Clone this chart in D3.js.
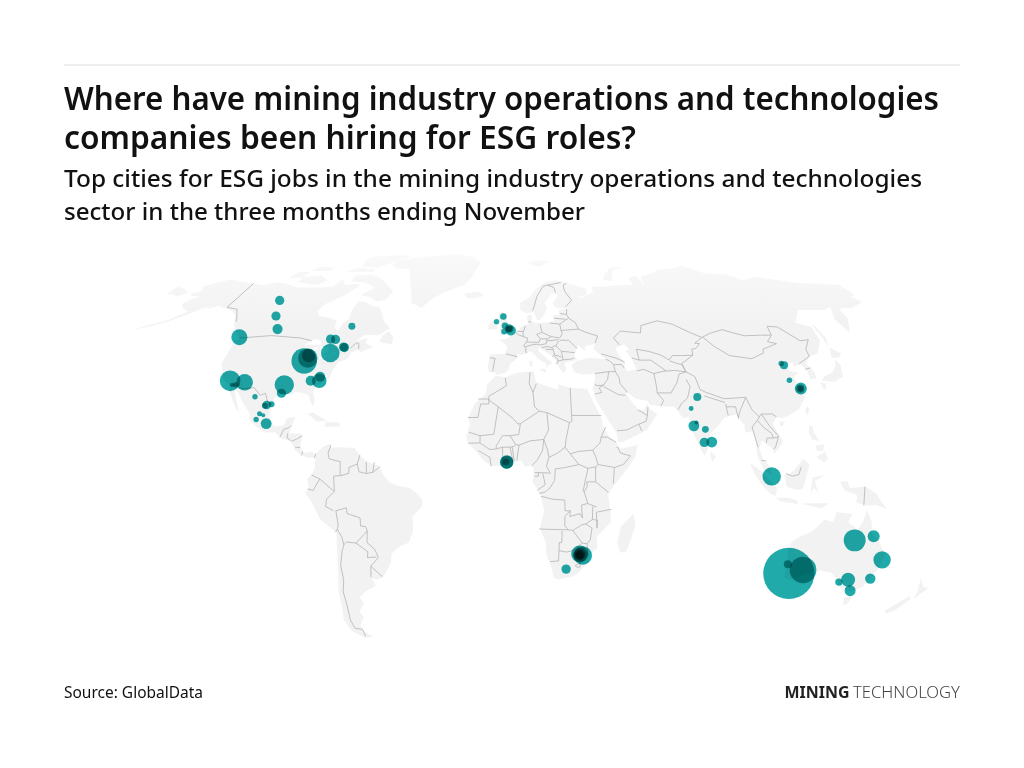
<!DOCTYPE html>
<html>
<head>
<meta charset="utf-8">
<script src="https://cdn.jsdelivr.net/npm/d3@7"></script>
<style>
body { margin: 0; background: #fff; font-family: "Noto Sans", sans-serif; }
svg { display: block; }
.bubble { mix-blend-mode: multiply; }
</style>
</head>
<body>
<svg id="chart" width="1024" height="768"></svg>
<script>
// text
var titleLines = ["Where have mining industry operations and technologies", "companies been hiring for ESG roles?"];
var subtitleLines = ["Top cities for ESG jobs in the mining industry operations and technologies", "sector in the three months ending November"];
var sourceText = "Source: GlobalData";

// cities
var cityLon = [-117.8,-113.2,-108.1,-123.2,-74.1,-81.3,-79,-74.1,-73.6,-79,-89.1,-88,-88,-117.4,-111.1,-114.5,-116,-94.2,-94.4,-105,-99.4,-97.5,-100.1,-101.7,-100.1,-102.7,-98.4,-83.6,-80,-80.1,
  -3.2,-6.4,-2.4,-2.7,0.4,-0.4,-0.4,
  77.1,73.8,74.1,75.3,78.6,77.7,80.7,
  116.8,117.7,117.3,120.8,120.6,120.7,
  103.9,116.4,121.8,114.7,139.6,146.9,153,151.4,142.3,145.6,138.9,
  -1.3,-1.3,-1.6,
  28.5,29.8,28.7,28.5,28.6,28.5,23.3];
var cityLat = [62.9,57,52.2,49.3,53.2,48.6,48.5,45.8,45.6,43.7,40.9,41.9,42.8,34,33.5,32.6,32.6,32.6,29.7,28.5,25.6,25.9,25.4,22.6,22.1,20.6,19.2,34,34,35.4,
  56.8,54.9,53.4,51.3,51.7,52.4,52.3,
  28.4,24.4,18.4,19.6,17.2,12.7,12.8,
  40,39.4,34.2,31.3,31.3,31.3,
  0.9,-32.7,-31.5,-29.5,-21.25,-19.8,-28,-34.5,-34.9,-38.7,-35.7,
  5.9,5.8,5.9,
  -26,-26.5,-26.2,-26.2,-26.3,-26.3,-31.2];
var cityValue = [2.35,2.35,2.8,7.1,1.35,2.35,2.35,2.35,2.35,9.6,17.9,10.45,5,11.8,7.65,0.8,0.45,10.45,2.35,0.8,2,1,1,0.7,0.45,0.8,3.25,2.8,5.9,2.8,
  1.2,0.8,1.2,1,2.8,2.05,1,
  1.8,0.65,3.25,0.45,1.3,2.45,3.25,
  0.85,1.8,0.85,4,1.8,0.8,
  9.4,72.8,19.7,1.8,13.4,4,8.4,3,5.45,3.35,1.5,
  5,4.6,1.2,
  8,9.6,5.5,3.5,2.4,1.4,2.45];

// land outlines [lon, lat]
var landRings = [
  [[-168,65.6],[-164,66.5],[-166.5,68.3],[-161,70.3],[-156.5,71.3],[-150,70.5],[-141,69.6],[-135,69],[-128,70],[-124,69.7],[-115,68],[-108,68],[-102,68],[-96,68.3],[-94,71.5],[-90,69],[-85,69.5],[-81.5,69],[-85,66],[-87,64.5],[-93,61.5],[-94.5,59],[-92.5,57],[-88,56.5],[-82.5,55.2],[-82,53],[-79.5,51.3],[-79,54.5],[-77,56],[-78,58.7],[-77.5,62.5],[-73.5,62.3],[-70,61],[-65,60.3],[-62,57.5],[-60,55],[-56,52.5],[-60,50],[-66.5,50.2],[-70,47.5],[-65,49],[-64.5,47],[-61,45.8],[-66,44],[-67,45],[-70,43.7],[-70.5,41.7],[-74,40.5],[-75.5,38],[-76,35],[-78,33.8],[-81,32],[-81.5,30],[-80,26.8],[-80.5,25.2],[-82,27],[-83,29],[-85,29.7],[-89,30.2],[-90,29.2],[-94,29.5],[-97,28],[-97.5,24],[-97.5,21.5],[-96,19],[-94,18.2],[-91,18.7],[-90.5,21],[-87,21.5],[-88,18],[-88.7,15.8],[-84,15.8],[-83.3,14.8],[-83.7,11],[-82,9],[-79.5,9.5],[-77.4,8.7],[-78,7.5],[-80.5,7.3],[-83,8.2],[-85.7,10],[-87.5,13],[-91.5,14],[-94.5,16.2],[-98,16],[-102,18],[-105.5,20.5],[-105.5,22.5],[-109,26],[-112.5,30],[-114.7,31.7],[-112.5,27.5],[-110,23],[-112,24.8],[-115.5,29.5],[-117,32.5],[-120.5,34.5],[-122.5,37.5],[-124.3,40.3],[-124,46.3],[-124.7,48.4],[-122.5,48.5],[-125,50.3],[-128,52],[-130.5,54.5],[-133.5,57.5],[-137.5,59],[-146,60.8],[-151,59.5],[-150,61],[-154,59],[-158,57],[-163,54.8],[-170,53],[-176,51.8],[-170,53.6],[-163,55.6],[-158,58.7],[-162,59.7],[-165.5,61.5],[-164,63.2],[-161,64.5],[-166,64.7]],
  [[-180,68.5],[-175,67.5],[-170,66],[-173,64.5],[-178,65.5],[-180,65]],
  [[-73,78],[-68,76],[-60,76],[-55,70],[-52,66],[-50,62],[-44,60],[-41,63],[-35,66],[-25,69],[-22,72],[-20,76],[-18,79],[-25,82],[-35,83.5],[-50,82.5],[-62,81.5],[-70,80]],
  [[-80,73.5],[-72,71.5],[-67,69],[-62,66.5],[-64,63],[-68,62.5],[-72,64],[-78,65],[-73,68],[-80,70],[-88,70.5],[-89,73]],
  [[-117,70],[-105,69],[-102,71],[-108,73],[-118,72.5]],
  [[-125,72],[-118,72],[-117,74.5],[-124,74.5]],
  [[-90,77],[-80,76.5],[-75,78.5],[-65,82],[-72,83],[-90,82],[-92,80]],
  [[-96,74.5],[-80,74.5],[-80,75.7],[-92,76.5]],
  [[-117,75],[-106,75],[-105,76.5],[-116,77]],
  [[-59,47.7],[-53,46.7],[-53,49],[-56,51.5],[-58,50]],
  [[-85,22],[-80,23],[-74,20.2],[-78,19.9],[-82,22.5]],
  [[-74.5,19.8],[-69,19.5],[-68.5,18.3],[-74.5,18]],
  [[-77.4,8.7],[-75,11],[-72,12.2],[-71.5,10.8],[-68,11],[-62,10.7],[-60,8.5],[-57,6],[-52,4.5],[-50,1],[-48,-1],[-44,-2.5],[-40,-3],[-37,-5],[-35,-7],[-35,-9.5],[-39,-13],[-39,-18],[-41,-22],[-45,-23.5],[-48.5,-26],[-49,-29],[-53,-33.8],[-56,-35],[-58,-34.2],[-57,-37],[-62,-39],[-65,-41],[-64,-43],[-67,-46],[-66,-48],[-69,-51],[-68.5,-53],[-65,-55],[-69,-55.5],[-74,-53],[-75.5,-49],[-74,-44],[-73.5,-39],[-71.5,-32],[-70.5,-25],[-70,-18.5],[-76,-14],[-79,-8],[-81.3,-5],[-80,-2.5],[-80.5,0],[-78.5,2],[-77.5,4],[-77.5,7]],
  [[-6,35.8],[-2,35.2],[3,36.8],[10,37.3],[11,33.5],[15,32.3],[20,31],[20,32.8],[25,31.6],[32,31.2],[32.5,30],[34,27],[35.5,24],[37,21],[37.5,18.5],[39.5,15],[43,12],[44,10.5],[51,11.8],[50,8],[47,4],[42,-1.5],[39,-5],[40,-11],[40.5,-15],[35,-20],[35.5,-24],[32.8,-26],[32,-29],[28,-33],[25,-34],[20,-34.8],[18.3,-34],[17,-30],[15,-26.5],[14.5,-22],[12,-17],[13.7,-11],[12,-5],[9,-1],[9.5,3.5],[8.5,4.7],[6,4.3],[4.5,6.3],[1,5.9],[-2,4.8],[-7.5,4.4],[-11,6.8],[-13.5,9.5],[-16.8,12.5],[-17.5,14.7],[-16.2,19],[-17,21],[-14.5,26],[-10,29.5],[-9.5,32.8]],
  [[49.3,-12],[50.5,-16],[47.5,-25],[45,-25.5],[43.5,-22],[44.5,-16.5]],
  [[-9,37],[-9.5,38.8],[-8.8,43.2],[-2,43.4],[-1.2,46],[-4.7,48.5],[-1.5,48.7],[1.5,50.5],[4,52],[6,53.5],[8.5,54],[8.2,57],[10.5,57.7],[10.5,55],[12,54.3],[18,54.7],[21,55],[21,57.5],[24,57.2],[24,59.3],[30,59.9],[23,60],[21.3,61.5],[25,65],[22,65.7],[17.5,62],[18.5,60],[16.5,57.5],[14.3,55.5],[13,55.5],[11.5,58.5],[8,58],[5.2,59],[5,62],[10,64],[14,67.5],[19,70],[25,71],[31,70],[41,67.5],[40,65],[35,64.3],[37,63.9],[44,66.1],[44,68.3],[54,68.5],[60,69],[67,69],[67,72],[72.5,73],[73,68.5],[74.5,72.5],[80,73.5],[88,75.5],[100,76.5],[105,77.7],[113,74],[125,73.5],[130,71],[140,72.5],[150,71],[160,69.7],[170,69.5],[180,69],[180,65],[177,64.5],[179,62.3],[170,60],[163,59.8],[162,56],[156.5,51],[155.5,56],[160,60.5],[155,59.2],[142,59.2],[135,54.5],[141,53],[140,48],[135,43.5],[130.5,42.5],[127.5,39.8],[129.4,37],[129,35],[126.3,34.5],[126.5,37.5],[125,39.7],[121.5,39],[122,40.5],[118,39],[119,37.5],[122.5,37],[119.3,35],[122,31],[121.5,28.5],[118,24.5],[114,22.3],[110,21],[108,21.5],[106,19],[109.2,13],[107,10.5],[105,8.7],[105,10.5],[102.5,12],[100.7,13.5],[99.5,10.5],[100.5,7],[103.5,4],[104,1.3],[101,3],[98.5,8],[98.5,13],[97.5,16.5],[94.5,16],[94.5,18.5],[91.8,22.3],[90,22],[87,21.3],[85,19.5],[80.3,15.5],[80,12],[77.5,8],[76,10.5],[73.5,16],[72.8,20],[72.5,21.5],[70,21],[69,22.5],[67,25],[61.5,25.2],[57,25.7],[56.5,27],[51.5,27.8],[48.5,30],[48,29.5],[50,26.5],[51.5,25],[52,24],[54.5,24],[56.3,26],[56.5,24.5],[59.8,22.5],[55,17],[52,15.7],[45,12.8],[43.3,12.7],[42.7,16],[39,21.5],[35,28],[34.9,29.5],[34.2,31.3],[35.5,33.5],[36,36.5],[30.5,36.2],[27.3,37],[26.5,39.5],[29,41],[35,42],[41.5,41.5],[37,45],[38,47],[33.5,46],[33,44.5],[30.5,46.3],[28,43],[29,41.2],[26,40.7],[23.5,40.2],[24,38],[22.7,36.6],[21,38.5],[19.5,41.5],[18.5,42.5],[14,45.2],[13,45.7],[12.3,44.5],[16,41.8],[18.5,40],[16.5,39.5],[16,38],[15.5,40],[12.3,41.7],[10.3,43.5],[8.8,44.4],[6,43],[3.2,43.2],[3,41.8],[0,39.8],[-0.7,37.7],[-2,36.8],[-5.5,36],[-7,37.2]],
  [[-5.5,50],[1.3,51.2],[1.7,52.7],[0,53.5],[-1.5,55],[-2,57.5],[-3.5,58.6],[-5.5,58.3],[-5.5,55.5],[-3,54],[-4.5,53.2],[-5,51.7],[-3,51.3]],
  [[-10,52],[-6,52.2],[-6,54.5],[-8,55.3],[-10,54]],
  [[-24,65.5],[-18,66.3],[-14,65.5],[-15,64.2],[-20,63.5],[-22.5,64]],
  [[11,79],[20,80.2],[25,79.5],[18,77],[14,77.5]],
  [[52,71],[57,70.8],[60,75],[68,77],[60,76.5],[54,73]],
  [[12.5,38],[15.5,38.2],[15,36.7]],
  [[8.3,41],[9.7,41],[9.5,39],[8.5,39]],
  [[80,9.7],[82,7.5],[80.5,6],[79.8,8]],
  [[131,34],[136,33.7],[140.5,35.5],[142,39.5],[141,41.5],[139.5,39],[137,37],[132.5,35.5]],
  [[130,33.5],[132,33],[131,31],[130,31.5]],
  [[140,42],[143,42],[145.5,43.5],[142,45.5]],
  [[142,46],[143.5,49],[143,54],[142,53.5],[142,50]],
  [[121,25],[122,24.8],[120.8,22],[120,23.5]],
  [[109,20],[111,19.8],[109.7,18.2],[108.7,18.7]],
  [[120.5,18.5],[122,18.3],[122,16],[124,13],[121,13.7],[120,16]],
  [[122,7.5],[125.5,9.5],[126.5,7],[125,5.7]],
  [[122,11.5],[125.5,12],[125,10],[122.5,9.5]],
  [[95.3,5.6],[98,4],[104,-1],[106,-3],[105.8,-5.8],[104,-5.5],[100,-2],[97,2]],
  [[105.5,-6.5],[111,-6.5],[114.5,-7.5],[114.5,-8.7],[108,-7.8]],
  [[109,1.5],[111,1.7],[113,3.2],[116.7,7],[119,5],[117.7,1],[116.3,-3.5],[114,-3.7],[110,-2.8]],
  [[119.5,-5.5],[120,0.5],[125,1.5],[121,-0.8],[122.5,-4.5],[120.5,-3]],
  [[131,-1],[134,-0.8],[135,-3.2],[141,-2.6],[145.5,-5],[148,-8],[150.5,-10.5],[146,-9],[143,-9.2],[138,-8.3],[138,-5.5],[133,-4]],
  [[116,-8.5],[125,-8.4],[127,-8.5],[124,-10.2],[118,-9]],
  [[114,-22],[113.5,-26],[115,-34],[118,-35],[124,-33],[129,-31.7],[134,-32.5],[138,-35],[141,-38],[146,-39],[150,-37.5],[153,-31],[153.5,-26],[149,-21],[146,-19],[145,-15],[142.5,-10.8],[141.5,-15],[140,-17.5],[135.5,-15],[136.8,-12],[130.5,-11.5],[129.5,-15],[126,-14],[122,-18],[116,-20.5]],
  [[144.8,-40.8],[148.3,-40.9],[147.8,-43.5],[146,-43.5]],
  [[172.7,-34.5],[176,-37.5],[178.5,-37.7],[175.3,-41.5],[174.7,-39]],
  [[172.7,-40.5],[174,-41.7],[171,-45.5],[168.5,-46.7],[166.5,-45.8],[170.5,-42.5]]
];

// inland water
var waterRings = [
  [[47,45.5],[51,46.8],[53,45],[51,44.5],[53,41.5],[53.8,38],[50,37.3],[49,38.5],[49.5,40.5],[47.5,43]],
  [[-92,46.7],[-88,48.7],[-85,47.8],[-84.7,46.5],[-87,46.5]],
  [[-88,42],[-87,45.5],[-85,46],[-86.3,43]],
  [[-84.5,46],[-81,45.5],[-80,44.5],[-82,43],[-83.5,44]],
  [[-83.3,41.7],[-79,42.8],[-79,43],[-83,42.3]],
  [[-79.7,43.3],[-76.5,44],[-76.3,43.4],[-79,43.2]]
];

var borderLines = [
  // north america
  [[-141,69.6],[-141,60.3],[-135,59.5],[-131,56],[-130,54.8]],
  [[-123,49],[-95,49],[-89.5,48]],
  [[-71,45.3],[-69,47.3],[-67.8,47],[-67,45]],
  [[-117,32.5],[-114.7,32.5],[-111,31.3],[-108,31.5],[-106.5,31.7],[-103,29],[-101,29.7],[-99.5,27],[-97.2,25.9]],
  [[-92.2,14.5],[-91,17.2],[-89,17.8],[-88.3,18.5]],
  [[-89.2,15.8],[-89.3,14.3],[-87.8,13.3]],
  [[-87.5,13],[-85,14],[-83.2,15]],
  [[-85.7,11],[-83.7,10.9]],
  [[-83,8.2],[-82.6,9.5]],
  [[-77.4,8.7],[-77.9,7.2]],
  // south america
  [[-71.5,11.8],[-72.5,9],[-72,7],[-67.5,6],[-67.5,2],[-67,1.2]],
  [[-67,1.2],[-70,1],[-69.8,-4.3]],
  [[-67,1.2],[-64,2],[-64,4],[-60.7,5.2]],
  [[-60.7,5.2],[-59.8,8.3]],
  [[-60.7,5.2],[-60,2.5],[-57,1.9],[-54.5,2.3],[-51.7,4.2]],
  [[-57,1.9],[-57.2,6]],
  [[-54.5,2.3],[-54,5.8]],
  [[-78.8,1.4],[-75.5,0],[-70,-4.2]],
  [[-75.5,0],[-78.3,-4],[-80.3,-3.4]],
  [[-69.8,-4.3],[-73,-7],[-73.5,-9.5],[-70.5,-11]],
  [[-69.5,-11],[-69,-16],[-69.5,-17.5],[-70.4,-18.4]],
  [[-69.5,-11],[-65.3,-10],[-65,-12],[-60,-13.5],[-60,-16.3],[-58,-16.5],[-57.5,-18]],
  [[-57.5,-18],[-59,-19.3],[-62.5,-22.2]],
  [[-62.5,-22.2],[-66.3,-21.8],[-67.5,-22.8]],
  [[-69.5,-17.5],[-68,-20],[-67.5,-22.8]],
  [[-67.5,-22.8],[-68.5,-25],[-70,-30],[-70,-35],[-71.5,-39],[-71.7,-44],[-72.5,-49],[-72,-52],[-68.5,-52.4]],
  [[-68.6,-52.6],[-68.6,-55]],
  [[-62.5,-22.2],[-58,-25.2],[-58.5,-27.2],[-54.7,-27]],
  [[-57.5,-18],[-58,-22],[-55.5,-24],[-54.6,-25.5],[-54,-27.2],[-57.6,-30.2],[-58.3,-34]],
  [[-57.6,-30.2],[-53.5,-33.8]],
  // africa
  [[-2,35],[-1.5,32.3],[-5,30.5],[-8.7,28.7],[-8.7,27.3],[-4.8,25]],
  [[-13,27.7],[-8.7,27.7],[-8.7,26],[-12,26],[-13,21.3],[-17,21.3]],
  [[-4.8,25],[1.2,21],[3.2,19],[4.2,19.2],[12,23.5],[10,25],[9.5,30],[11,33]],
  [[-4.8,25],[-6.5,15.5],[-12,15],[-16.5,16.2]],
  [[-12,15],[-12,12.5],[-16.7,12.4]],
  [[-12.5,9.8],[-10,8.5],[-8,7.5],[-7.5,4.4]],
  [[-12,12.5],[-8,10.2],[-5.5,10.4],[-3,11],[-2.8,5]],
  [[-3,11],[0,11],[2.2,11.5]],
  [[0,11],[1.2,6.1]],
  [[0.9,11],[1.7,6.2]],
  [[-5.5,10.4],[-5.5,11.5],[-3,15],[0,15],[2.2,12],[3.6,11.7],[2.7,6.4]],
  [[3.6,11.7],[8,13.2],[13.5,13.7]],
  [[4.2,19.2],[3.5,15.4],[0,15]],
  [[9.5,30],[8,33],[8.5,37]],
  [[12,23.5],[15,23],[24,19.5],[25,20],[25,22]],
  [[25,31.6],[25,22],[37,22]],
  [[15,23],[15.5,17],[13.5,13.7]],
  [[24,19.5],[22.5,14],[22,11],[19,9],[15.5,7.5]],
  [[13.5,13.7],[15,10],[15.5,7.5],[14.5,4.5],[16,2],[13,2.2],[9.8,2.2]],
  [[13.5,13.7],[13,10],[11,6.7],[8.7,4.6]],
  [[9.8,1],[11.3,1],[11.3,2.2]],
  [[13,2],[14,-2],[11,-3.8],[11,-4]],
  [[11.5,-5],[14,-4.5],[16,-3],[17.7,-0.5],[18,3.5],[22,4],[27.4,5],[31,3.7],[34,4.2],[35,5]],
  [[22,11],[24,8.7],[27.4,5]],
  [[24,8.7],[27,9.5],[33,10],[34.2,7.5],[35,5],[41.5,4],[41,-1.6]],
  [[33,10],[36,12.5],[36.5,14.5],[38.5,18]],
  [[36.5,14.5],[39,14.5],[42.5,12.7]],
  [[42.5,11],[43,11],[44,9],[48,8],[45,5],[41.5,4]],
  [[34,4.2],[34,-1],[39.2,-4.7]],
  [[31,3.7],[29.7,-1.3],[29,-4.5]],
  [[34,-1],[30.5,-1],[30.7,-2.5],[29.5,-4.5],[31,-8.5],[34.5,-9.7]],
  [[34.5,-11.5],[40.4,-10.5]],
  [[33,-9.5],[33,-14],[35,-14.3],[35,-17],[34.5,-11.5]],
  [[12.3,-6],[17,-7],[21.8,-7.3],[22,-11],[24,-11],[24,-13],[28,-12],[29,-13.5],[28.5,-9],[31,-8.5]],
  [[24,-11],[22,-13],[22,-16.2],[23.4,-17.6]],
  [[11.8,-17.3],[14,-17.4],[23.4,-17.6],[25.3,-17.8],[29,-15.8],[30.4,-15.6],[33,-14]],
  [[21,-18],[21,-22],[20,-22],[20,-28.4],[16.5,-28.6]],
  [[30.4,-15.6],[33,-17],[32.5,-21],[31.3,-22.4],[32,-26.8]],
  [[25.3,-17.8],[29.3,-22.2],[31.3,-22.4]],
  [[20,-24.8],[23,-25.3],[26,-24.7],[29.3,-22.2]],
  [[27,-30],[29,-29],[29,-30.5],[27.5,-30.5],[27,-30]],
  // europe
  [[-8.8,42],[-6.5,41.8],[-7,39.5],[-7.4,37.2]],
  [[-1.8,43.4],[3.2,42.4]],
  [[2.5,51],[4.2,50],[6,49.5],[8,49],[7.5,47.6],[6,46.2],[7,45.8],[7,44],[7.5,43.8]],
  [[7,45.9],[10.4,46.7],[12.5,46.8],[13.7,46.5]],
  [[7.5,47.6],[9.6,47.5],[13,47.5],[13.8,48.7],[12.2,50.3],[14.8,51],[14.2,53.9]],
  [[7.2,53.3],[6,51],[6,49.5]],
  [[3.4,51.4],[6,51.3]],
  [[8.7,54.9],[9.9,54.8]],
  [[14.8,51],[18.8,49.5],[22.5,49],[24,50.5],[23.6,52],[23.5,54],[19,54.4]],
  [[13.8,48.7],[16.9,48.7],[18.8,49.5]],
  [[16.9,48.7],[16.2,47],[13.7,46.5]],
  [[16.9,48],[22,48.4]],
  [[23.5,54],[26.5,55.5],[28.2,56.2],[27.5,57.6],[28,59.5]],
  [[21,56.2],[26.5,55.8]],
  [[24.3,57.9],[27.5,57.6]],
  [[28.2,56.2],[31,54.5],[31.8,52.2],[35,51],[40,49.7],[38.2,47.2]],
  [[23.6,51.7],[31.8,52.2]],
  [[22.5,48.2],[26.5,48.2],[29,46],[29.7,45.3]],
  [[22,48],[20.5,46.2],[22.7,44.3],[28.5,43.8]],
  [[22.7,44.3],[23,41.3],[26.3,41.5],[28,42]],
  [[23,41.3],[20.8,40.9],[20,39.7]],
  [[19.4,42.5],[20.8,41.5],[20.8,40.9]],
  [[14,45.5],[16.5,46],[19,45.5],[19.5,43],[18.5,42.5]],
  [[19,46],[20.5,46.2]],
  [[15.8,45],[19,44.9]],
  [[19.5,43],[22.5,42.3]],
  [[11.2,59],[12.5,61.5],[14,64.5],[18,68.5],[20.5,69],[28,70]],
  [[24,66],[23.7,68],[20.5,69]],
  [[27.8,60.5],[31.5,62.9],[29,66.5],[29,69],[31,69.7]],
  // asia
  [[36,36.5],[42,37.2],[44.8,37.2],[44.5,39.7],[43,41],[41.5,41.5]],
  [[40,43.4],[46.5,41.8],[49.5,40.5]],
  [[44.8,39.7],[48,39.6],[48.9,38.4]],
  [[44.8,37.2],[46,35],[46,33],[48.5,30]],
  [[42,37.2],[41,34.5],[39,32.5],[36,32.3],[35.5,33]],
  [[39,32.5],[37,31.5],[38,30],[35,29.4]],
  [[39,32],[44.7,29.2],[47.5,29]],
  [[43,16.7],[47,17],[52,19],[55,20],[55.7,22],[52,24]],
  [[52,19],[53,16.6]],
  [[55.7,22],[56.3,25]],
  [[54,37.4],[57,38],[61,36.5],[61,31.5],[60.8,29.8],[63,27.2],[61.6,25.2]],
  [[60.8,29.8],[66.5,29.8],[70,33.5],[71.5,36.3],[74.8,37.1]],
  [[61,36.5],[65,37.3],[66.5,37.4],[70,37.6],[74.8,37.1]],
  [[53,42],[56,41.2],[56,45],[61,44.3],[66,43],[69,41.3],[71,42.8],[75,42.8],[80,42.9],[80.5,45],[82.5,45.3],[85,47],[83,47.2],[87.3,49.2]],
  [[56,41.2],[61,41.2],[66.5,37.4]],
  [[69,41],[72,40],[73.8,39.7],[74.8,37.1]],
  [[49,46.5],[47,49],[51,51.5],[60,50.8],[61.5,53.5],[70,55.2],[76.5,54],[83,50.9],[87.3,49.2],[92,50.7],[98.5,52],[102,51],[107,49.8],[114.5,50],[119.5,50],[120.5,53.2],[125,53],[131,48],[135,48.4],[131,45],[130.7,42.5]],
  [[87.8,49.2],[91,46],[96,42.8],[105,41.7],[111.5,43.7],[112,45],[119.5,47],[116,47.7],[119.5,50]],
  [[124.5,40],[130.7,42.5]],
  [[126,38],[128.5,38.5]],
  [[80,42.9],[74,40],[74.8,37.1],[78,35.5],[78.8,31],[81,30],[88,27.8],[92,28],[97,28.3],[94.5,25],[93,22.5],[92.5,21]],
  [[74,34.5],[75,32],[73,28],[70,26],[68.5,24]],
  [[80,28.8],[88,26.5]],
  [[88.2,26],[88.5,22]],
  [[88.2,25],[92,25],[92.5,21]],
  [[97,28.3],[98.5,24],[101,21.5],[100,20.3],[97.5,18],[99,11]],
  [[101,21.5],[102,22.5],[106.5,22.5],[108,21.5]],
  [[100,20.3],[102,18],[105,15.8],[105.5,14.2]],
  [[102,22.5],[104.5,18.5],[107.5,15],[107.5,14.5]],
  [[102.5,12.5],[103,14.2],[105.5,14.2],[107.5,14.5],[106,11],[105,10.4]],
  [[100,6.5],[102,6.2]],
  [[109.6,1.9],[112,1],[114.7,1.5],[115.7,4.2]],
  [[141,-2.6],[141,-9.2]]
];

// robinson table, every 5 degrees
var robinsonX = [1,.9986,.9954,.99,.9822,.973,.96,.9427,.9216,.8962,.8679,.835,.7986,.7597,.7186,.6732,.6213,.5722,.5322];
var robinsonY = [0,.062,.124,.186,.248,.31,.372,.434,.4958,.5571,.6176,.6769,.7346,.7903,.8435,.8936,.9394,.9761,1];

function robinsonRaw(lambda, phi) {
  var deg = Math.abs(phi) * 180 / Math.PI;
  var i = Math.min(Math.floor(deg / 5), 17);
  var t = deg / 5 - i;
  var px = robinsonX[i] + (robinsonX[i + 1] - robinsonX[i]) * t;
  var py = robinsonY[i] + (robinsonY[i + 1] - robinsonY[i]) * t;
  // y factor is a bit above the textbook 1.3523 to fit the picture
  return [0.8487 * px * lambda, 1.369 * py * (phi < 0 ? -1 : 1)];
}

var projection = d3.geoProjection(robinsonRaw).scale(170.1).translate([510, 479]);
var path = d3.geoPath(projection);

// d3 wants rings wound so the polygon is the small side of the sphere
function toPolygon(ring) {
  var closed = ring.concat([ring[0]]);
  var poly = { type: "Polygon", coordinates: [closed] };
  if (d3.geoArea(poly) > 2 * Math.PI) poly.coordinates = [closed.slice().reverse()];
  return poly;
}

var svg = d3.select("#chart");
svg.append("rect").attr("width", 1024).attr("height", 768).attr("fill", "#fff");

// land fades out a little towards the top of the map
var fade = svg.append("defs").append("linearGradient").attr("id", "landFade")
  .attr("gradientUnits", "userSpaceOnUse")
  .attr("x1", 0).attr("x2", 0).attr("y1", 255).attr("y2", 325);
fade.append("stop").attr("offset", 0).attr("stop-color", "#f9f9f9");
fade.append("stop").attr("offset", 1).attr("stop-color", "#f2f2f2");

svg.append("line").attr("x1", 64).attr("x2", 960).attr("y1", 65).attr("y2", 65)
  .attr("stroke", "#dcdcdc").attr("stroke-width", 1);

function addText(str, y, size, weight, width, x, fill) {
  return svg.append("text").attr("x", x || 64).attr("y", y)
    .attr("font-size", size).attr("font-weight", weight)
    .attr("fill", fill || "#111")
    .attr("textLength", width).attr("lengthAdjust", "spacingAndGlyphs")
    .text(str);
}
addText(titleLines[0], 110, 32, 600, 875);
addText(titleLines[1], 149, 32, 600, 572);
addText(subtitleLines[0], 187, 24, 500, 858);
addText(subtitleLines[1], 220, 24, 500, 521);
addText(sourceText, 698, 16, 400, 139);
addText("MINING", 698, 16.5, 700, 65, 784.5, "#222");
addText("TECHNOLOGY", 698, 16.5, 300, 107, 853, "#444");

svg.append("g").selectAll("path").data(landRings).enter().append("path")
  .attr("d", function(d) { return path(toPolygon(d)); })
  .attr("fill", "url(#landFade)");

svg.append("g").selectAll("path").data(waterRings).enter().append("path")
  .attr("d", function(d) { return path(toPolygon(d)); })
  .attr("fill", "#fff");

svg.append("g").selectAll("path").data(borderLines).enter().append("path")
  .attr("d", function(d) { return path({ type: "LineString", coordinates: d }); })
  .attr("fill", "none").attr("stroke", "#b4b4b4").attr("stroke-width", 0.8);

var radius = d3.scaleSqrt().domain([0, d3.max(cityValue)]).range([0, 25.6]);

svg.append("g").selectAll("circle").data(cityValue).enter().append("circle")
  .attr("class", "bubble")
  .attr("cx", function(d, i) { return projection([cityLon[i], cityLat[i]])[0]; })
  .attr("cy", function(d, i) { return projection([cityLon[i], cityLat[i]])[1]; })
  .attr("r", function(d) { return radius(d); })
  .attr("fill", "#20aaaa");
</script>
</body>
</html>
